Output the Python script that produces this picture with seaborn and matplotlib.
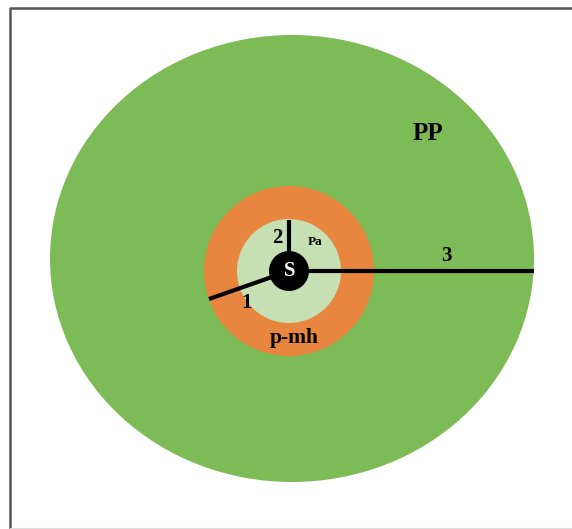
import seaborn as sns
import matplotlib.pyplot as plt
from matplotlib.patches import Ellipse, Circle

# ---------------- DATA ---------------- #

# zones, outermost first (pixel units of the 572x529 canvas)
zone_names = ["PP", "p-mh", "Pa", "S"]
zone_width = [484, 170, 104, 40]
zone_height = [447, 170, 104, 40]
zone_cx = [292, 289, 289, 289]
zone_cy = [258.5, 271, 271, 271]
zone_colors = ["#7dbb57", "#e8853f", "#c6e0b4", "#000000"]

# radius lines drawn from the S centre
line_ids = ["1", "2", "3"]
line_end_x = [209, 289, 534]
line_end_y = [299, 220, 271]

# ---------------- DRAW ---------------- #

sns.set_theme(style="white")
plt.rcParams["font.family"] = ["Liberation Serif", "DejaVu Serif"]

fig = plt.figure(figsize=(5.72, 5.29), dpi=100)
ax = fig.add_axes([0, 0, 1, 1])
ax.set_xlim(0, 572)
ax.set_ylim(529, 0)
ax.set_aspect("equal")
ax.axis("off")

# frame
ax.plot([10, 10, 572], [529, 8, 8], color="#555555", lw=1.8)
ax.plot([10, 572], [528, 528], color="#dddddd", lw=0.8)

for w, h, cx, cy, c in zip(zone_width, zone_height, zone_cx, zone_cy, zone_colors):
    if w == zone_width[-1]:
        continue
    ax.add_patch(Ellipse((cx, cy), w, h, facecolor=c, edgecolor="none"))

for ex, ey in zip(line_end_x, line_end_y):
    ax.plot([zone_cx[-1], ex], [zone_cy[-1], ey], color="black", lw=3,
            solid_capstyle="butt")

ax.add_patch(Circle((zone_cx[-1], zone_cy[-1]), zone_width[-1] / 2,
                    facecolor=zone_colors[-1], edgecolor="none", zorder=5))

# labels
txt = dict(fontweight="bold", ha="center", va="center", color="black")
ax.text(428, 134, "PP", fontsize=18, **txt)
ax.text(294, 338, "p-mh", fontsize=15.5, **txt)
ax.text(315, 242, "Pa", fontsize=9.5, **txt)
ax.text(289.5, 270.5, "S", fontsize=15, zorder=6,
        **{**txt, "color": "white"})
ax.text(446, 256, "3", fontsize=15, **txt)
ax.text(277.5, 238, "2", fontsize=15, **txt)
ax.text(247, 303.5, "1", fontsize=15, **txt)

fig.savefig("out.png", dpi=100)
